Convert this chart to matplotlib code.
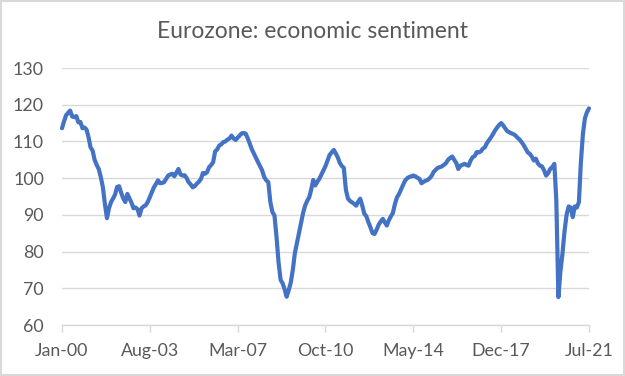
# Eurozone economic sentiment chart

import numpy as np
import pandas as pd
import matplotlib
matplotlib.use('Agg')
import matplotlib.pyplot as plt
import matplotlib.dates as mdates
from matplotlib.patches import Rectangle

plt.rcParams['font.family'] = ['Lato', 'DejaVu Sans']

# monthly index values, Jan-00 .. Jul-21
esi_2000 = [113.6, 115.5, 117.1, 117.8, 118.4, 116.8, 116.6, 116.9, 115.2, 115.3, 113.6, 113.8]
esi_2001 = [113.2, 111.0, 108.4, 107.5, 105.0, 103.6, 102.5, 100.3, 97.5, 93.0, 89.1, 91.8]
esi_2002 = [93.5, 94.5, 95.5, 97.6, 97.8, 96.0, 94.5, 93.5, 95.7, 94.5, 93.3, 91.8]
esi_2003 = [92.0, 91.5, 89.8, 91.8, 92.3, 92.6, 93.5, 94.8, 96.2, 97.5, 98.4, 99.4]
esi_2004 = [98.6, 98.7, 98.9, 99.8, 100.7, 101.0, 101.2, 100.5, 101.5, 102.5, 101.0, 100.7]
esi_2005 = [100.8, 100.0, 98.9, 98.3, 97.5, 97.8, 98.5, 99.0, 99.8, 101.4, 101.2, 101.6]
esi_2006 = [103.0, 103.6, 104.3, 107.3, 107.8, 108.9, 109.2, 109.8, 110.0, 110.5, 110.8, 111.6]
esi_2007 = [110.8, 110.4, 111.0, 111.6, 112.2, 112.3, 112.1, 110.8, 109.3, 107.8, 106.6, 105.5]
esi_2008 = [104.3, 103.2, 102.1, 100.3, 99.4, 98.9, 93.5, 90.8, 89.8, 84.0, 77.0, 72.3]
esi_2009 = [71.3, 69.6, 67.7, 69.5, 71.5, 75.0, 79.5, 82.3, 85.0, 87.8, 90.5, 92.5]
esi_2010 = [93.8, 94.8, 96.8, 99.5, 98.0, 99.0, 99.8, 101.0, 102.2, 103.3, 104.8, 106.3]
esi_2011 = [107.0, 107.7, 106.8, 105.7, 104.2, 103.3, 102.8, 96.8, 94.4, 93.8, 93.4, 93.0]
esi_2012 = [92.5, 93.6, 94.4, 92.5, 90.3, 89.6, 88.0, 86.6, 85.0, 84.8, 86.0, 87.3]
esi_2013 = [88.2, 88.9, 88.0, 87.1, 88.5, 89.6, 90.5, 93.0, 94.8, 95.7, 97.0, 98.2]
esi_2014 = [99.4, 100.0, 100.3, 100.5, 100.7, 100.5, 100.1, 99.8, 98.6, 99.0, 99.3, 99.5]
esi_2015 = [100.0, 100.7, 101.7, 102.3, 102.8, 103.0, 103.2, 103.6, 104.1, 105.0, 105.5, 105.9]
esi_2016 = [105.0, 104.1, 102.5, 103.4, 103.6, 103.9, 103.6, 103.4, 104.8, 105.7, 106.0, 107.1]
esi_2017 = [107.0, 107.3, 108.0, 108.4, 109.5, 110.3, 111.1, 112.0, 113.0, 113.8, 114.5, 115.0]
esi_2018 = [114.3, 113.5, 112.8, 112.5, 112.2, 112.0, 111.6, 111.0, 110.5, 109.8, 109.0, 108.0]
esi_2019 = [107.0, 106.6, 105.9, 104.8, 105.3, 104.0, 103.4, 103.2, 102.1, 100.7, 101.4, 102.5]
esi_2020 = [103.0, 103.9, 94.0, 67.6, 74.5, 79.5, 85.5, 90.0, 92.3, 92.0, 89.4, 92.3]
esi_2021 = [92.0, 93.5, 104.0, 112.0, 116.3, 118.0, 119.0]

esi = (esi_2000 + esi_2001 + esi_2002 + esi_2003 + esi_2004 + esi_2005 + esi_2006
       + esi_2007 + esi_2008 + esi_2009 + esi_2010 + esi_2011 + esi_2012 + esi_2013
       + esi_2014 + esi_2015 + esi_2016 + esi_2017 + esi_2018 + esi_2019 + esi_2020
       + esi_2021)
dates = pd.date_range('2000-01-01', periods=len(esi), freq='MS')

tick_dates = pd.to_datetime(['2000-01-01', '2003-08-01', '2007-03-01', '2010-10-01',
                             '2014-05-01', '2017-12-01', '2021-07-01'])
y_ticks = [60, 70, 80, 90, 100, 110, 120, 130]

grey_text = '#595959'
grid_col = '#d9d9d9'

fig = plt.figure(figsize=(6.25, 3.76), dpi=100)
ax = fig.add_axes([62/625, 1 - 325/376, (589 - 62)/625, (325 - 68)/376])

ax.plot(dates, esi, color='#4472C4', linewidth=3.0, solid_capstyle='round',
        solid_joinstyle='round', clip_on=False, zorder=3)

ax.set_ylim(60, 130)
ax.set_xlim(dates[0], dates[-1])
ax.set_yticks(y_ticks)
ax.set_xticks(tick_dates)
ax.xaxis.set_major_formatter(mdates.DateFormatter('%b-%y'))

ax.grid(axis='y', color=grid_col, linewidth=1.0)
ax.set_axisbelow(True)
for s in ['top', 'right', 'left']:
    ax.spines[s].set_visible(False)
ax.spines['bottom'].set_color(grid_col)
ax.spines['bottom'].set_linewidth(1.0)

ax.tick_params(axis='y', length=0, pad=13, labelsize=12.8, labelcolor=grey_text)
ax.tick_params(axis='x', length=5, width=1.0, color=grid_col, pad=8,
               labelsize=12.8, labelcolor=grey_text)

fig.text(0.5, 1 - 31/376, 'Eurozone: economic sentiment', ha='center', va='center',
         fontsize=16.5, color=grey_text)

# chart border
fig.patches.append(Rectangle((0.002, 0.003), 0.996, 0.994, transform=fig.transFigure,
                             fill=False, edgecolor='#d9d9d9', linewidth=1.5))

fig.savefig('out.png', dpi=100)
